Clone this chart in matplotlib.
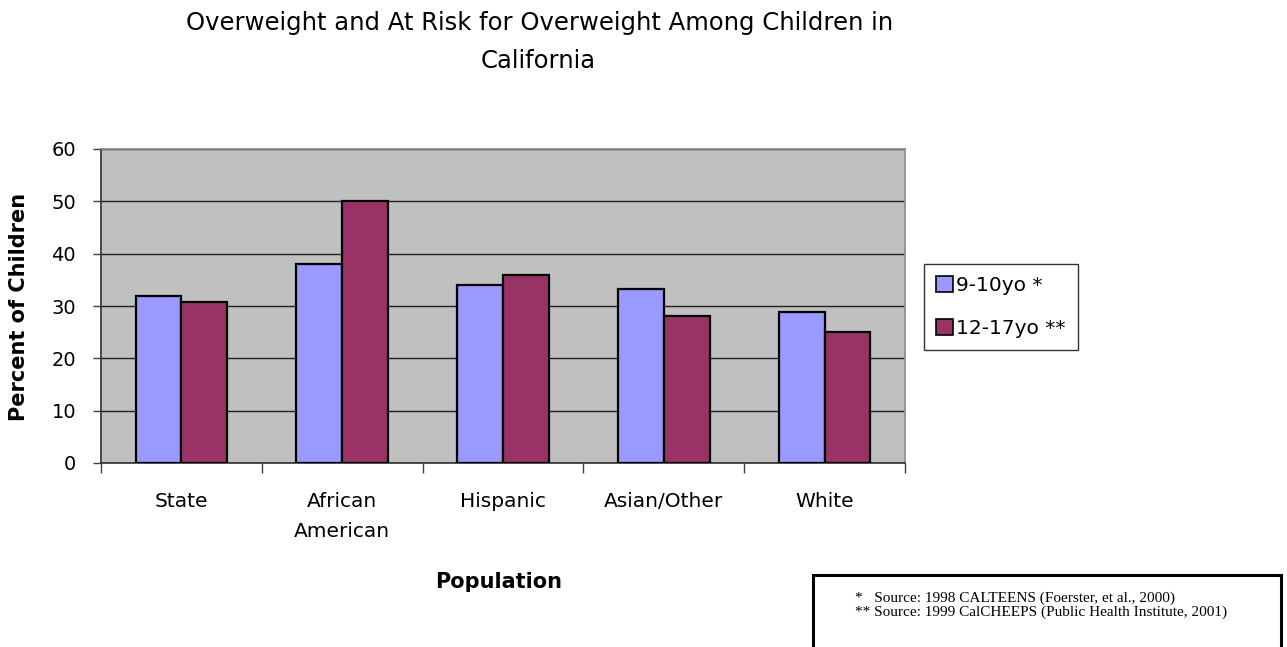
import matplotlib
matplotlib.use("Agg")
import matplotlib.pyplot as plt
from matplotlib.patches import Rectangle, Patch
import numpy as np

categories = ["State", "African\nAmerican", "Hispanic", "Asian/Other", "White"]
age_9_10 = [32, 38, 34, 33.2, 28.8]
age_12_17 = [30.7, 50, 36, 28, 25]
series_labels = ["9-10yo *", "12-17yo **"]
yticks = [0, 10, 20, 30, 40, 50, 60]
title_lines = ["Overweight and At Risk for Overweight Among Children in", "California"]
notes = ["*   Source: 1998 CALTEENS (Foerster, et al., 2000)",
         "** Source: 1999 CalCHEEPS (Public Health Institute, 2001)"]

W, H = 1287, 647
fig = plt.figure(figsize=(W / 100, H / 100), dpi=100)
plt.rcParams["font.family"] = ["DejaVu Sans"]

def fx(px):
    return px / W

def fy(py):
    return 1 - py / H

ax = fig.add_axes([fx(101), fy(463), fx(905) - fx(101), fy(149) - fy(463)])
ax.set_facecolor("#C0C0C0")

x = np.arange(len(categories))
bw = 0.285
ax.bar(x - bw / 2, age_9_10, bw, color="#9999FF", edgecolor="black", linewidth=1.6,
       label=series_labels[0], zorder=3)
ax.bar(x + bw / 2, age_12_17, bw, color="#993366", edgecolor="black", linewidth=1.6,
       label=series_labels[1], zorder=3)

ax.set_xlim(-0.5, len(categories) - 0.5)
ax.set_ylim(0, 60)
ax.set_yticks(yticks)
ax.set_yticklabels([str(v) for v in yticks], fontsize=14)
ax.yaxis.grid(True, color="#202020", linewidth=1.0, zorder=1)
ax.set_axisbelow(True)

# tick marks sit on category boundaries, labels at bar-group centres
ax.set_xticks(np.arange(-0.5, len(categories) + 0.5, 1.0))
ax.set_xticklabels([])
ax.set_xticks(x, minor=True)
ax.set_xticklabels(categories, minor=True, fontsize=14.5, linespacing=1.75)
ax.tick_params(axis="x", which="major", length=7, width=1, color="#404040", direction="out")
ax.tick_params(axis="x", which="minor", length=0, pad=21)
ax.tick_params(axis="y", length=6, width=1, color="#404040", direction="out", pad=12)

for side in ("top", "right"):
    ax.spines[side].set_color("#8C8C8C")
    ax.spines[side].set_linewidth(1.2)
for side in ("left", "bottom"):
    ax.spines[side].set_color("#303030")
    ax.spines[side].set_linewidth(1.2)

fig.text(fx(19), fy(307), "Percent of Children", rotation=90, ha="center", va="center",
         fontsize=15, fontweight="bold")
fig.text(fx(499), fy(582), "Population", ha="center", va="center",
         fontsize=15, fontweight="bold")

fig.text(fx(540), fy(30), title_lines[0], ha="center", va="baseline", fontsize=17.5)
fig.text(fx(538), fy(68), title_lines[1], ha="center", va="baseline", fontsize=17.5)

handles = [Patch(facecolor="#9999FF", edgecolor="black", linewidth=1.2),
           Patch(facecolor="#993366", edgecolor="black", linewidth=1.2)]
leg = fig.legend(handles, series_labels, loc="upper left",
                 bbox_to_anchor=(fx(924), fy(264)), fontsize=14.5, frameon=True,
                 fancybox=False, edgecolor="black", handlelength=0.85, handleheight=0.85,
                 handletextpad=0.15, labelspacing=1.2, borderpad=0.6, borderaxespad=0)
leg.get_frame().set_linewidth(1.0)

# source note box
fig.patches.append(Rectangle((fx(813), fy(680)), fx(1281) - fx(813), fy(575) - fy(680),
                             transform=fig.transFigure, facecolor="white",
                             edgecolor="black", linewidth=2.2))
serif = ["Liberation Serif", "DejaVu Serif"]
fig.text(fx(855), fy(592), "\n".join(notes), family=serif, fontsize=11,
         va="top", linespacing=1.05)

fig.savefig("out.png", dpi=100, facecolor="white")
